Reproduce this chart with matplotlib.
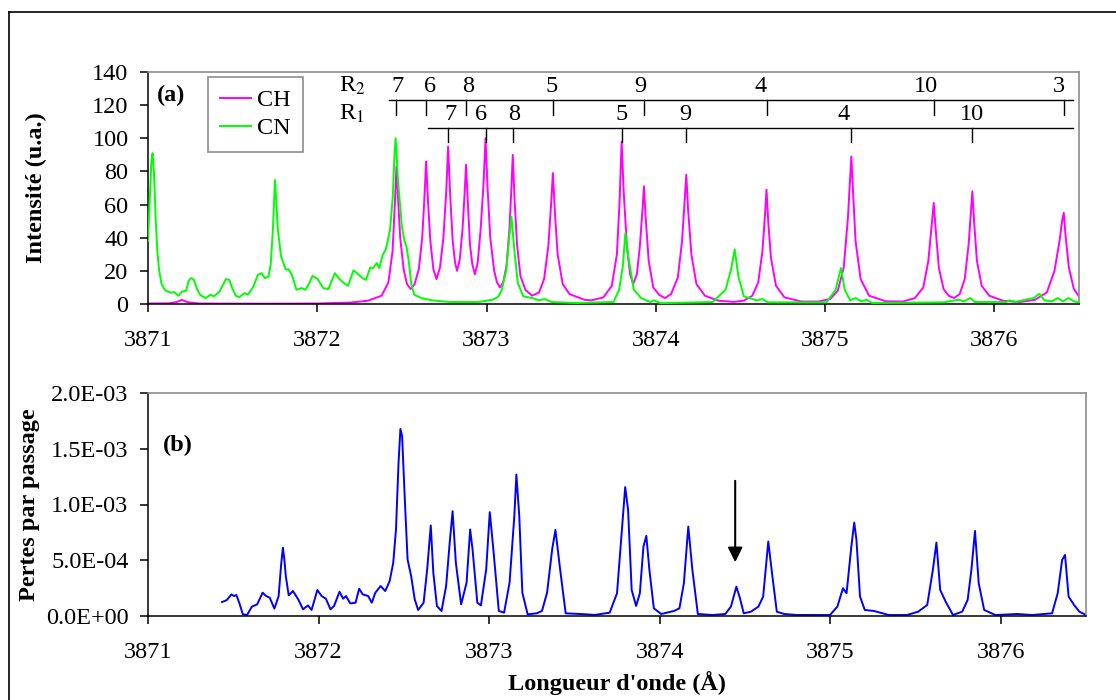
import numpy as np
import matplotlib
matplotlib.use("Agg")
import matplotlib.pyplot as plt
from matplotlib.lines import Line2D
from matplotlib.ticker import FuncFormatter

# ---------------- data ----------------
# (a) CH spectrum, wavelength (Angstrom) / intensity (a.u.)
CH = [
    (3871.00, 0.3), (3871.12, 0.4), (3871.17, 1.2), (3871.20, 2.5), (3871.23, 1.2), (3871.30, 0.3),
    (3871.70, 0.2), (3872.00, 0.3), (3872.20, 0.9), (3872.30, 2.0), (3872.38, 5), (3872.42, 13),
    (3872.445, 32), (3872.458, 60), (3872.468, 83), (3872.478, 62), (3872.49, 40), (3872.51, 21),
    (3872.53, 12), (3872.552, 9),
    (3872.575, 12), (3872.60, 21), (3872.62, 40), (3872.632, 62), (3872.643, 86), (3872.654, 62),
    (3872.668, 38), (3872.686, 21), (3872.704, 15),
    (3872.725, 22), (3872.745, 40), (3872.762, 68), (3872.773, 95), (3872.785, 66), (3872.80, 38),
    (3872.814, 25), (3872.826, 20),
    (3872.842, 27), (3872.858, 45), (3872.870, 66), (3872.879, 84), (3872.889, 62), (3872.902, 36),
    (3872.916, 24), (3872.931, 18),
    (3872.948, 25), (3872.965, 45), (3872.982, 72), (3872.994, 100), (3873.006, 70), (3873.022, 40),
    (3873.045, 20), (3873.062, 13), (3873.079, 10),
    (3873.098, 13), (3873.118, 23), (3873.135, 45), (3873.146, 68), (3873.155, 90), (3873.165, 64),
    (3873.18, 36), (3873.20, 17), (3873.23, 8.5), (3873.269, 5),
    (3873.31, 7), (3873.34, 15), (3873.365, 35), (3873.38, 58), (3873.392, 79), (3873.404, 55),
    (3873.42, 30), (3873.45, 12), (3873.49, 6), (3873.58, 2.5), (3873.62, 2.2),
    (3873.69, 4), (3873.74, 11), (3873.77, 30), (3873.786, 62), (3873.798, 98), (3873.81, 68),
    (3873.83, 34), (3873.848, 18), (3873.866, 12),
    (3873.888, 18), (3873.905, 34), (3873.92, 55), (3873.93, 71), (3873.94, 52), (3873.958, 26),
    (3873.985, 10), (3874.02, 5.5), (3874.054, 3.6),
    (3874.09, 6), (3874.13, 16), (3874.155, 38), (3874.17, 62), (3874.18, 78), (3874.19, 58),
    (3874.21, 30), (3874.24, 12), (3874.29, 5), (3874.37, 2), (3874.46, 1.3), (3874.52, 2),
    (3874.57, 5), (3874.605, 13), (3874.63, 32), (3874.645, 54), (3874.654, 69), (3874.664, 50),
    (3874.68, 28), (3874.71, 11), (3874.76, 4), (3874.86, 1.5), (3874.96, 1.5), (3875.03, 3),
    (3875.075, 8), (3875.11, 22), (3875.135, 52), (3875.147, 74), (3875.155, 89), (3875.165, 68),
    (3875.18, 38), (3875.21, 15), (3875.26, 5), (3875.36, 1.6), (3875.46, 1.5), (3875.53, 3.5),
    (3875.58, 10), (3875.61, 26), (3875.63, 48), (3875.642, 61), (3875.654, 44), (3875.672, 22),
    (3875.70, 9), (3875.73, 5), (3875.762, 3.6),
    (3875.795, 6), (3875.825, 15), (3875.848, 36), (3875.862, 56), (3875.870, 68), (3875.88, 50),
    (3875.897, 26), (3875.925, 11), (3875.97, 5), (3876.05, 2), (3876.15, 1.2), (3876.24, 2.5),
    (3876.31, 7), (3876.355, 20), (3876.385, 38), (3876.40, 50), (3876.41, 55), (3876.42, 42),
    (3876.44, 22), (3876.47, 9), (3876.50, 4.5),
]

# (a) CN spectrum
CN = [
    (3871.00, 38), (3871.01, 62), (3871.02, 86), (3871.027, 91), (3871.035, 80), (3871.045, 52),
    (3871.055, 32), (3871.065, 21), (3871.08, 12), (3871.10, 8.5), (3871.117, 7.5), (3871.14, 6.8),
    (3871.155, 7.2), (3871.18, 5), (3871.20, 7.5), (3871.225, 8), (3871.24, 14), (3871.254, 15.6),
    (3871.27, 14.8), (3871.29, 9), (3871.307, 5.6), (3871.339, 3.6), (3871.37, 5.6), (3871.39, 4.6),
    (3871.423, 7.6), (3871.445, 12), (3871.46, 15), (3871.48, 14.6), (3871.50, 9), (3871.518, 5),
    (3871.54, 4.2), (3871.57, 6.6), (3871.59, 5.6), (3871.623, 10.6), (3871.649, 17.6),
    (3871.672, 18.6), (3871.69, 15.6), (3871.712, 16.6), (3871.725, 24), (3871.738, 45),
    (3871.75, 74.8), (3871.758, 62), (3871.767, 45), (3871.786, 28.7), (3871.814, 20.7),
    (3871.83, 21), (3871.85, 17.6), (3871.877, 8.6), (3871.908, 9.6), (3871.93, 8.6),
    (3871.955, 13), (3871.972, 17), (3872.003, 15), (3872.035, 9.6), (3872.066, 9), (3872.085, 14),
    (3872.104, 18.6), (3872.126, 15.6), (3872.157, 12.6), (3872.182, 11), (3872.214, 20.3),
    (3872.235, 18.6), (3872.267, 15.6), (3872.288, 14.6), (3872.313, 22), (3872.33, 21.7),
    (3872.351, 24.7), (3872.366, 21.7), (3872.387, 29.7), (3872.404, 32.7), (3872.43, 44.7),
    (3872.446, 64.8), (3872.456, 90), (3872.463, 100), (3872.47, 88), (3872.478, 72.8),
    (3872.50, 46.7), (3872.515, 38), (3872.527, 34.7), (3872.542, 24.7), (3872.555, 12),
    (3872.573, 5.6), (3872.615, 3.6), (3872.678, 2.2), (3872.783, 1.2), (3872.952, 1.2),
    (3873.037, 2.6), (3873.07, 4.5), (3873.09, 8.6), (3873.117, 20.7), (3873.134, 40.7),
    (3873.147, 52.7), (3873.164, 32.7), (3873.185, 12.6), (3873.217, 4.6), (3873.27, 3.6),
    (3873.31, 2.2), (3873.343, 3), (3873.386, 1.2), (3873.534, 0.6), (3873.75, 1.2),
    (3873.783, 8.6), (3873.805, 22.7), (3873.82, 42.7), (3873.837, 28.7), (3873.87, 8.6),
    (3873.913, 3.6), (3873.967, 1.2), (3873.989, 2.2), (3874.03, 0.5), (3874.336, 1.2),
    (3874.412, 8.6), (3874.444, 20.7), (3874.466, 33), (3874.488, 16.6), (3874.52, 4.6),
    (3874.553, 3.6), (3874.596, 2.2), (3874.628, 3), (3874.66, 1), (3875.008, 1),
    (3875.062, 8.6), (3875.094, 21.7), (3875.116, 8.6), (3875.148, 2.2), (3875.181, 3.6),
    (3875.213, 1.6), (3875.246, 2.6), (3875.278, 0.6), (3875.70, 1), (3875.788, 2.6),
    (3875.82, 1.6), (3875.857, 3.6), (3875.885, 1.2), (3876.07, 1.2), (3876.09, 2.2),
    (3876.12, 1.2), (3876.167, 2.2), (3876.20, 3), (3876.232, 3.6), (3876.265, 6.2),
    (3876.297, 2.2), (3876.34, 1.6), (3876.373, 3.6), (3876.405, 1.6), (3876.438, 3.6),
    (3876.47, 1.6), (3876.50, 1),
]

# (b) losses per pass, in units of 1E-03
LOSS = [
    (3871.434, 0.125), (3871.462, 0.143), (3871.489, 0.194), (3871.504, 0.179), (3871.518, 0.188),
    (3871.535, 0.119), (3871.556, 0.015), (3871.581, 0.009), (3871.609, 0.084), (3871.64, 0.104),
    (3871.672, 0.209), (3871.693, 0.179), (3871.714, 0.164), (3871.741, 0.066), (3871.766, 0.179),
    (3871.78, 0.45), (3871.791, 0.612), (3871.80, 0.5), (3871.808, 0.358), (3871.825, 0.185),
    (3871.85, 0.224), (3871.881, 0.149), (3871.909, 0.06), (3871.938, 0.095), (3871.959, 0.054),
    (3871.993, 0.233), (3872.018, 0.179), (3872.043, 0.155), (3872.07, 0.06), (3872.091, 0.09),
    (3872.123, 0.218), (3872.144, 0.155), (3872.161, 0.179), (3872.186, 0.113), (3872.217, 0.119),
    (3872.238, 0.245), (3872.259, 0.194), (3872.291, 0.179), (3872.312, 0.119), (3872.333, 0.209),
    (3872.364, 0.269), (3872.391, 0.224), (3872.417, 0.313), (3872.438, 0.478), (3872.454, 0.776),
    (3872.469, 1.373), (3872.48, 1.678), (3872.49, 1.612), (3872.505, 1.075), (3872.522, 0.507),
    (3872.543, 0.358), (3872.564, 0.149), (3872.584, 0.054), (3872.616, 0.119), (3872.637, 0.418),
    (3872.658, 0.812), (3872.673, 0.388), (3872.694, 0.09), (3872.721, 0.045), (3872.748, 0.269),
    (3872.769, 0.657), (3872.786, 0.94), (3872.805, 0.478), (3872.836, 0.104), (3872.868, 0.299),
    (3872.889, 0.776), (3872.903, 0.597), (3872.931, 0.119), (3872.952, 0.095), (3872.983, 0.418),
    (3873.004, 0.931), (3873.025, 0.597), (3873.057, 0.045), (3873.088, 0.03), (3873.12, 0.299),
    (3873.148, 0.896), (3873.16, 1.269), (3873.177, 0.896), (3873.195, 0.209), (3873.226, 0.015),
    (3873.279, 0.024), (3873.31, 0.045), (3873.34, 0.209), (3873.37, 0.6), (3873.389, 0.772),
    (3873.417, 0.413), (3873.449, 0.024), (3873.535, 0.018), (3873.621, 0.01), (3873.707, 0.03),
    (3873.75, 0.204), (3873.776, 0.713), (3873.798, 1.156), (3873.815, 0.952), (3873.836, 0.234),
    (3873.862, 0.09), (3873.884, 0.204), (3873.905, 0.623), (3873.922, 0.719), (3873.94, 0.413),
    (3873.966, 0.069), (3874.009, 0.018), (3874.084, 0.045), (3874.116, 0.069), (3874.142, 0.293),
    (3874.168, 0.802), (3874.192, 0.413), (3874.224, 0.018), (3874.31, 0.009), (3874.385, 0.018),
    (3874.418, 0.084), (3874.45, 0.263), (3874.471, 0.159), (3874.493, 0.024), (3874.536, 0.039),
    (3874.579, 0.084), (3874.607, 0.174), (3874.637, 0.668), (3874.659, 0.383), (3874.687, 0.039),
    (3874.73, 0.018), (3874.805, 0.009), (3874.999, 0.009), (3875.042, 0.084), (3875.075, 0.249),
    (3875.096, 0.204), (3875.124, 0.623), (3875.141, 0.838), (3875.154, 0.683), (3875.175, 0.174),
    (3875.203, 0.054), (3875.257, 0.045), (3875.343, 0.009), (3875.451, 0.009), (3875.516, 0.039),
    (3875.569, 0.099), (3875.602, 0.413), (3875.623, 0.659), (3875.645, 0.234), (3875.677, 0.129),
    (3875.72, 0.009), (3875.774, 0.039), (3875.806, 0.144), (3875.828, 0.413), (3875.849, 0.763),
    (3875.871, 0.293), (3875.903, 0.054), (3875.969, 0.009), (3876.098, 0.018), (3876.184, 0.009),
    (3876.301, 0.024), (3876.334, 0.204), (3876.36, 0.503), (3876.377, 0.548), (3876.398, 0.174),
    (3876.43, 0.099), (3876.461, 0.039), (3876.50, 0.009),
]

# rotational line assignments (tick position, label, label position)
R2_POS = [3872.468, 3872.643, 3872.879, 3873.392, 3873.930, 3874.654, 3875.642, 3876.410]
R2_LBL = ["7", "6", "8", "5", "9", "4", "10", "3"]
R2_TXT = [3872.471, 3872.668, 3872.893, 3873.382, 3873.907, 3874.618, 3875.597, 3876.379]
R1_POS = [3872.773, 3872.994, 3873.155, 3873.798, 3874.180, 3875.155, 3875.870]
R1_LBL = ["7", "6", "8", "5", "9", "4", "10"]
R1_TXT = [3872.788, 3872.970, 3873.160, 3873.798, 3874.173, 3875.107, 3875.870]

XTICKS = [3871, 3872, 3873, 3874, 3875, 3876]
YTICKS_A = [0, 20, 40, 60, 80, 100, 120, 140]
YTICKS_B = [0, 0.5, 1.0, 1.5, 2.0]
ARROW_X = 3874.443   # unassigned line in (b)

plt.rcParams["font.family"] = ["Liberation Serif", "DejaVu Serif"]
plt.rcParams["mathtext.fontset"] = "stix"
FS = 17.5


def style_axes(ax):
    for s in ("top", "right"):
        ax.spines[s].set_color("#8c8c8c")
        ax.spines[s].set_linewidth(1.2)
    for s in ("left", "bottom"):
        ax.spines[s].set_color("black")
        ax.spines[s].set_linewidth(1.1)
    ax.set_xlim(3871, 3876.5)
    ax.set_xticks(XTICKS)
    ax.set_xticklabels([str(t) for t in XTICKS])
    ax.tick_params(axis="x", direction="out", length=6, width=1.1, pad=13, labelsize=FS)
    ax.tick_params(axis="y", direction="out", length=6, width=1.1, pad=8, labelsize=FS)


W, H = 1116, 700
fig = plt.figure(figsize=(W / 100, H / 100), dpi=100)

# ---------------- (a) ----------------
ax1 = fig.add_axes([148 / W, 1 - 304 / H, (1079 - 148) / W, (304 - 72) / H])
style_axes(ax1)
ch_x, ch_y = zip(*CH)
cn_x, cn_y = zip(*CN)
ax1.plot(ch_x, ch_y, color="#ff00ff", lw=1.4, label="CH", zorder=2)
ax1.plot(cn_x, cn_y, color="#00ff00", lw=1.4, label="CN", zorder=3)
ax1.set_ylim(0, 140)
ax1.set_yticks(YTICKS_A)

ax1.text(3871.055, 126, "(a)", fontsize=FS, fontweight="bold", va="center", ha="left")

leg = ax1.legend(loc="upper left", bbox_to_anchor=(0.064, 0.978), borderaxespad=0,
                 fancybox=False, frameon=True, fontsize=FS, handlelength=1.3,
                 handletextpad=0.25, labelspacing=0.25, borderpad=0.5)
leg.get_frame().set_edgecolor("#707070")
leg.get_frame().set_linewidth(1.2)

# line-assignment ladders
y2, y1 = 123.3, 106.3
ax1.plot([3872.421, 3876.466], [y2, y2], color="black", lw=1.0)
ax1.plot([3872.653, 3876.466], [y1, y1], color="black", lw=1.0)
for p in R2_POS:
    ax1.plot([p, p], [y2, y2 - 9.5], color="black", lw=1.0)
for p, t in zip(R2_TXT, R2_LBL):
    ax1.text(p, y2 + 1.5, t, fontsize=FS, ha="center", va="bottom")
for p in R1_POS:
    ax1.plot([p, p], [y1, y1 - 8.5], color="black", lw=1.0)
for p, t in zip(R1_TXT, R1_LBL):
    ax1.text(p, y1 + 1.5, t, fontsize=FS, ha="center", va="bottom")
ax1.text(3872.13, y2 + 1.5, r"R$_2$", fontsize=FS, ha="left", va="bottom")
ax1.text(3872.13, y1 + 1.5, r"R$_1$", fontsize=FS, ha="left", va="bottom")

fig.text(36 / W, 1 - 188 / H, "Intensité (u.a.)", rotation=90, ha="center", va="center",
         fontsize=FS, fontweight="bold")

# ---------------- (b) ----------------
ax2 = fig.add_axes([148 / W, 1 - 616 / H, (1086 - 148) / W, (616 - 393) / H])
style_axes(ax2)
loss_x, loss_y = zip(*LOSS)
ax2.plot(loss_x, loss_y, color="#0000ff", lw=1.4)
ax2.set_ylim(0, 2.0)
ax2.set_yticks(YTICKS_B)
ax2.yaxis.set_major_formatter(FuncFormatter(lambda v, _: f"{v * 1e-3:.1E}"))
ax2.text(3871.085, 1.53, "(b)", fontsize=FS, fontweight="bold", va="center", ha="left")
ax2.annotate("", xy=(ARROW_X, 0.458), xytext=(ARROW_X, 1.237),
             arrowprops=dict(arrowstyle="-|>", color="black", lw=1.5, mutation_scale=22))

fig.text(30 / W, 1 - 505 / H, "Pertes par passage", rotation=90, ha="center", va="center",
         fontsize=FS, fontweight="bold")
fig.text(617 / W, 1 - 683 / H, "Longueur d'onde (Å)", ha="center", va="center",
         fontsize=FS, fontweight="bold")

# outer frame (left and top edges visible in the reference)
fig.add_artist(Line2D([9 / W, 9 / W], [0, 1 - 12 / H], color="black", lw=1.2))
fig.add_artist(Line2D([9 / W, 1], [1 - 12 / H, 1 - 12 / H], color="black", lw=1.2))

fig.savefig("out.png", dpi=100)
